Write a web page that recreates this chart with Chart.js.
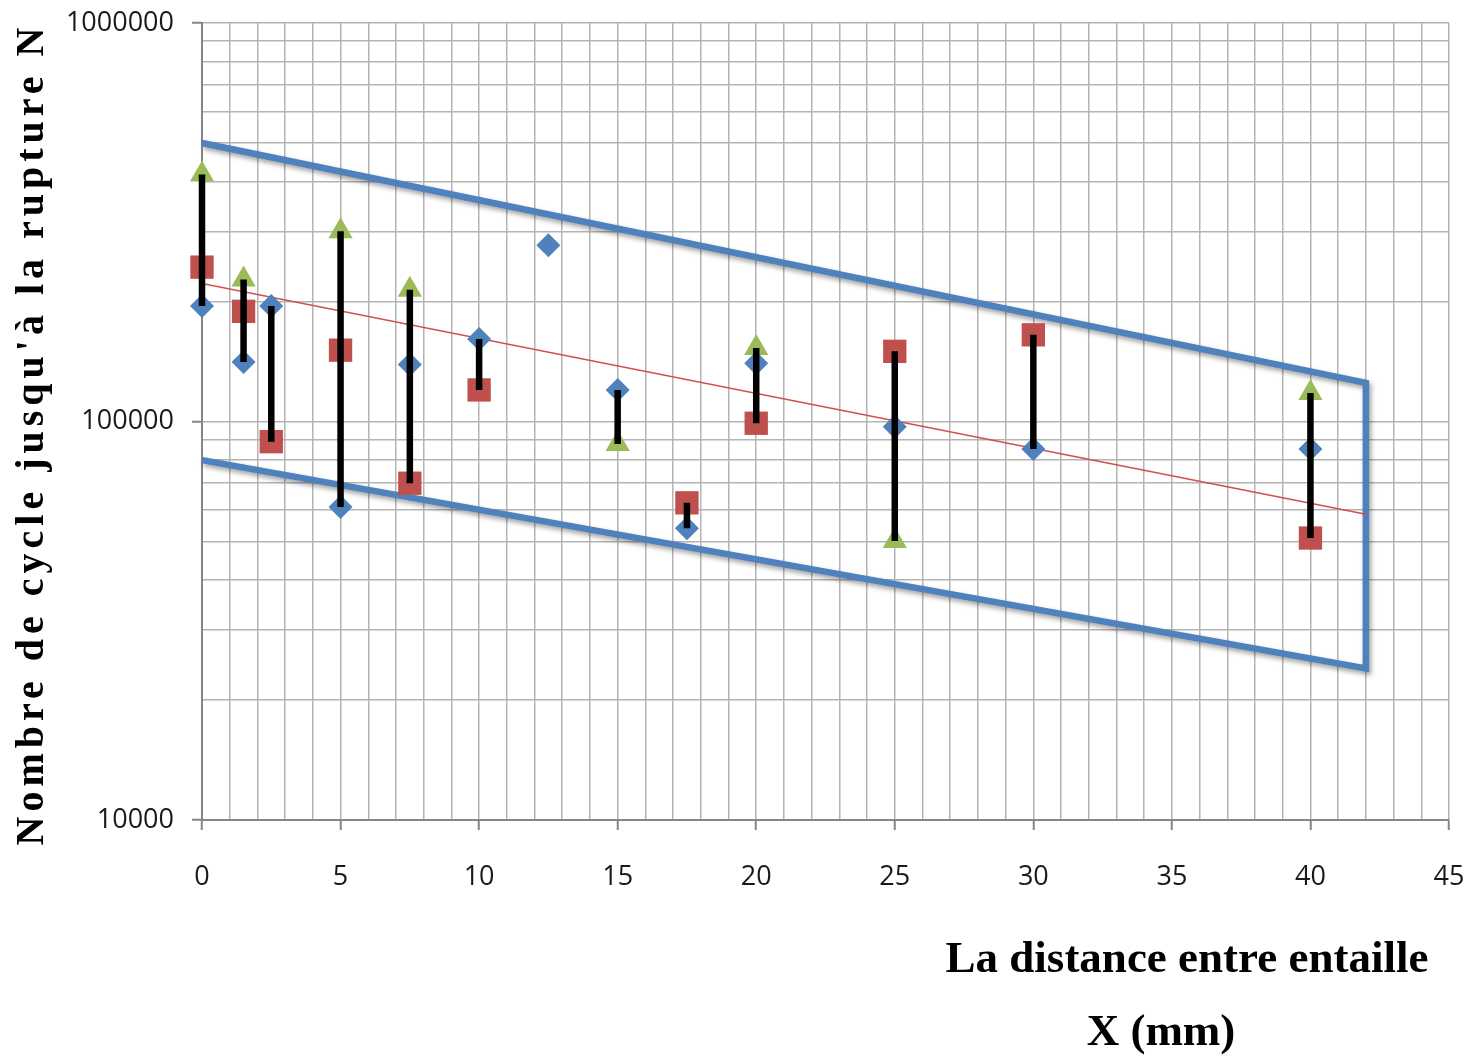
<!DOCTYPE html>
<html>
<head>
<meta charset="utf-8">
<script src="https://cdn.jsdelivr.net/npm/chart.js@4.4.0/dist/chart.umd.min.js"></script>
<style>
  html, body { margin: 0; padding: 0; background: #ffffff; }
  canvas { display: block; }
</style>
</head>
<body>
<canvas id="chart" width="1464" height="1059"></canvas>
<script>
// Distance between notches (mm) for each test group
const distances = [0, 1.5, 2.5, 5, 7.5, 10, 12.5, 15, 17.5, 20, 25, 30, 40];

// Cycles to failure, one array per specimen series (null = no specimen)
const cyclesDiamond  = [195000, 141000, 195000, 61000, 139000, 161000, 277000, 120000, 54000, 140000, 97000, 85300, 85300];
const cyclesSquare   = [244000, 189000, 89000, 151000, 70000, 120000, null, null, 62500, 99000, 150000, 165000, 51000];
const cyclesTriangle = [417000, 227000, null, 300000, 214000, null, null, 87800, null, 153000, 50100, null, 117900];

// Exponential trend line end points
const trendX = [0, 42];
const trendY = [222000, 58500];

// Scatter band outline (upper edge, right edge, lower edge)
const bandX = [0, 42, 42, 0];
const bandY = [500000, 125000, 24000, 80000];

// Axis labels
const xLabels = [0, 5, 10, 15, 20, 25, 30, 35, 40, 45];
const yLabels = [10000, 100000, 1000000];

const xTitleLines = ['La distance entre entaille', 'X (mm)'];
const yTitle = "Nombre de cycle jusqu'à la rupture N";

// ---- derived structures for Chart.js ----
const toPoints = (xs, ys) => xs.map((x, i) => ({ x: x, y: ys[i] })).filter(p => p.y != null);

const xGrid = [];
for (let v = 0; v <= 45; v += 1) xGrid.push(v);
const yGrid = [];
for (let d = 10000; d < 1000000; d *= 10) {
  for (let m = 1; m < 10; m++) yGrid.push(m * d);
}
yGrid.push(1000000);

// vertical min-max bar at each distance
const rangeSets = [];
distances.forEach((x, i) => {
  const vals = [cyclesDiamond[i], cyclesSquare[i], cyclesTriangle[i]].filter(v => v != null);
  if (vals.length > 1) {
    rangeSets.push({
      data: [{ x: x, y: Math.max(...vals) }, { x: x, y: Math.min(...vals) }],
      showLine: true,
      borderColor: '#000000',
      borderWidth: 6.5,
      borderCapStyle: 'butt',
      pointRadius: 0,
      pointHoverRadius: 0,
      clip: false,
      order: 0
    });
  }
});

const BLUE = '#4F81BD', RED = '#C0504D', GREEN = '#9BBB59';

const datasets = [
  {
    label: 'bande',
    data: toPoints(bandX, bandY),
    showLine: true,
    borderColor: BLUE,
    borderWidth: 6.5,
    borderJoinStyle: 'miter',
    pointRadius: 0,
    pointHoverRadius: 0,
    castShadow: true,
    clip: 8,
    order: 5
  },
  {
    label: 'tendance',
    data: toPoints(trendX, trendY),
    showLine: true,
    borderColor: '#D0504D',
    borderWidth: 1.6,
    pointRadius: 0,
    pointHoverRadius: 0,
    order: 4
  },
  {
    label: 'série 1',
    data: toPoints(distances, cyclesDiamond),
    pointStyle: 'rectRot',
    pointRadius: 12,
    backgroundColor: BLUE,
    borderColor: BLUE,
    borderWidth: 0,
    clip: false,
    order: 3
  },
  {
    label: 'série 2',
    data: toPoints(distances, cyclesSquare),
    pointStyle: 'rect',
    pointRadius: 16.5,
    backgroundColor: RED,
    borderColor: RED,
    borderWidth: 0,
    clip: false,
    order: 2
  },
  {
    label: 'série 3',
    data: toPoints(distances, cyclesTriangle),
    pointStyle: 'triangle',
    pointRadius: 14,
    backgroundColor: GREEN,
    borderColor: GREEN,
    borderWidth: 0,
    clip: false,
    order: 1
  },
  ...rangeSets
];

const shadowPlugin = {
  id: 'bandShadow',
  beforeDatasetDraw(chart, args) {
    if (chart.data.datasets[args.index].castShadow) {
      const c = chart.ctx;
      c.save();
      c.shadowColor = 'rgba(0,0,0,0.38)';
      c.shadowBlur = 5;
      c.shadowOffsetX = 2;
      c.shadowOffsetY = 3;
    }
  },
  afterDatasetDraw(chart, args) {
    if (chart.data.datasets[args.index].castShadow) chart.ctx.restore();
  }
};

const titlePlugin = {
  id: 'axisTitles',
  afterDraw(chart) {
    const c = chart.ctx;
    c.save();
    c.fillStyle = '#000000';
    c.font = 'bold 45px "Liberation Serif", "Times New Roman", serif';
    c.textAlign = 'center';
    c.textBaseline = 'alphabetic';
    c.fillText(xTitleLines[0], 1187, 972);
    c.fillText(xTitleLines[1], 1161, 1045);
    c.restore();

    c.save();
    c.fillStyle = '#000000';
    c.font = 'bold 40px "Liberation Serif", "Times New Roman", serif';
    if ('letterSpacing' in c) c.letterSpacing = '5px';
    c.textAlign = 'center';
    c.textBaseline = 'alphabetic';
    c.translate(43, 434);
    c.rotate(-Math.PI / 2);
    c.fillText(yTitle, 0, 0);
    c.restore();
  }
};

const GRID = '#b4b4b4';
const AXIS = '#868686';

new Chart(document.getElementById('chart'), {
  type: 'scatter',
  data: { datasets: datasets },
  plugins: [shadowPlugin, titlePlugin],
  options: {
    responsive: false,
    animation: false,
    devicePixelRatio: 1,
    layout: { autoPadding: false, padding: { top: 23, right: 15, bottom: 0, left: 0 } },
    plugins: { legend: { display: false }, tooltip: { enabled: false } },
    scales: {
      x: {
        type: 'linear',
        min: 0,
        max: 45,
        afterBuildTicks: s => { s.ticks = xGrid.map(v => ({ value: v })); },
        afterFit: s => { s.height = 239; s.paddingLeft = 0; s.paddingRight = 0; },
        border: { display: true, color: AXIS, width: 2 },
        grid: {
          color: GRID,
          lineWidth: 1.5,
          tickLength: 10,
          tickWidth: 2,
          tickColor: ctx => (ctx.tick && xLabels.includes(ctx.tick.value)) ? AXIS : 'rgba(0,0,0,0)'
        },
        ticks: {
          autoSkip: false,
          maxRotation: 0,
          padding: 31,
          color: '#1a1a1a',
          font: { family: '"Open Sans", sans-serif', size: 27 },
          callback: v => xLabels.includes(v) ? String(v) : ''
        }
      },
      y: {
        type: 'logarithmic',
        min: 10000,
        max: 1000000,
        afterBuildTicks: s => { s.ticks = yGrid.map(v => ({ value: v })); },
        afterFit: s => { s.width = 202; s.paddingTop = 0; s.paddingBottom = 0; },
        border: { display: true, color: AXIS, width: 2 },
        grid: {
          color: GRID,
          lineWidth: 1.5,
          tickLength: 10,
          tickWidth: 2,
          tickColor: ctx => (ctx.tick && yLabels.includes(ctx.tick.value)) ? AXIS : 'rgba(0,0,0,0)'
        },
        ticks: {
          autoSkip: false,
          padding: 18,
          color: '#1a1a1a',
          font: { family: '"Open Sans", sans-serif', size: 27 },
          callback: v => yLabels.includes(v) ? String(v) : ''
        }
      }
    }
  }
});
</script>
</body>
</html>
